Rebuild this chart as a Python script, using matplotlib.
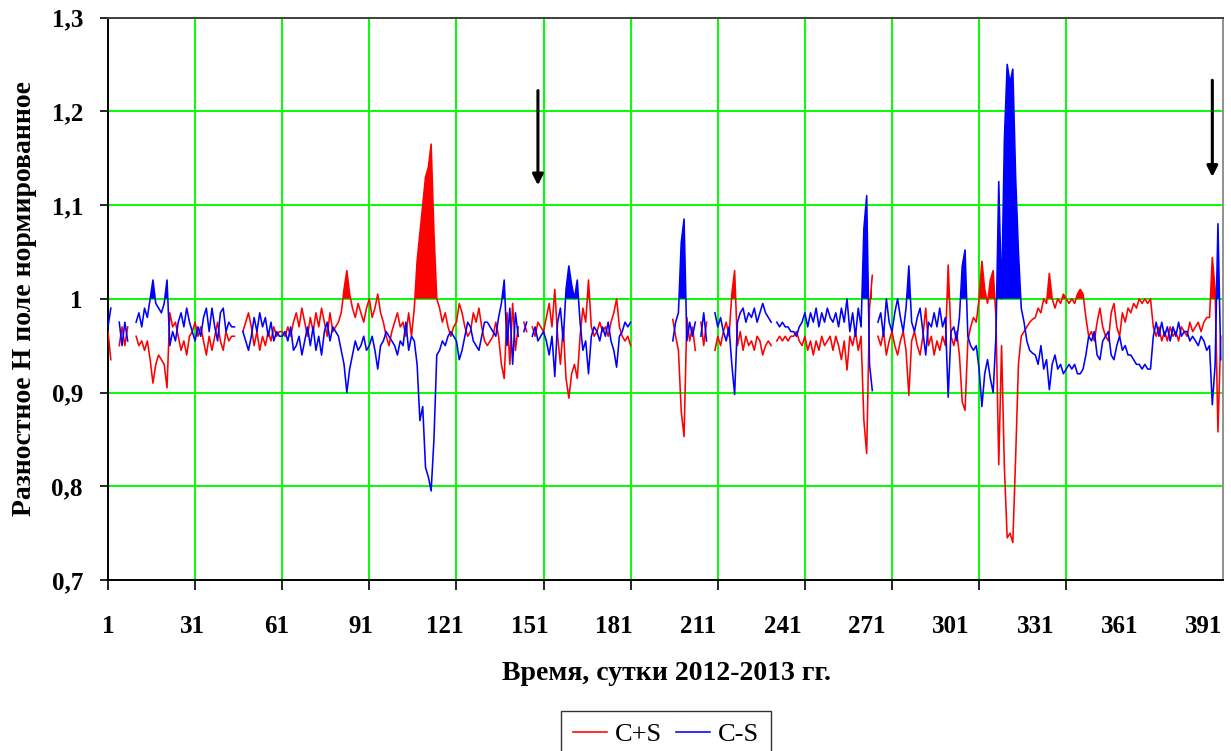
import numpy as np
import matplotlib
matplotlib.use('Agg')
import matplotlib.pyplot as plt
from matplotlib.ticker import FuncFormatter

nan = np.nan

# суточные значения, дни 1..397
cps = [  # C+S
    0.965, 0.935, nan, nan, 0.95, 0.97, 0.95, 0.97, nan, nan,
    0.96, 0.95, 0.955, 0.945, 0.955, 0.935, 0.91, 0.93, 0.94, 0.935,
    0.93, 0.905, 0.985, 0.97, 0.975, 0.96, 0.945, 0.955, 0.94, 0.96,
    0.965, 0.975, 0.96, 0.97, 0.955, 0.94, 0.96, 0.945, 0.96, 0.975,
    0.955, 0.945, 0.965, 0.955, 0.96, 0.96, nan, nan, 0.965, 0.975,
    0.985, 0.97, 0.95, 0.965, 0.945, 0.96, 0.95, 0.965, 0.955, 0.97,
    0.96, 0.965, 0.965, 0.96, 0.97, 0.96, 0.975, 0.985, 0.97, 0.99,
    0.975, 0.96, 0.98, 0.965, 0.985, 0.97, 0.99, 0.975, 0.96, 0.985,
    0.965, 0.97, 0.975, 0.985, 1.01, 1.03, 1.005, 0.99, 0.98, 0.995,
    0.985, 0.975, 0.99, 1.0, 0.98, 0.99, 1.005, 0.985, 0.975, 0.96,
    0.95, 0.965, 0.975, 0.985, 0.97, 0.975, 0.96, 0.985, 0.96, 0.99,
    1.04, 1.07, 1.1, 1.13, 1.14, 1.165, 1.07, 1.0, 0.99, 0.975,
    0.985, 0.97, 0.96, 0.97, 0.975, 0.995, 0.985, 0.97, 0.96, 0.965,
    0.985, 0.975, 0.99, 0.97, 0.955, 0.95, 0.955, 0.96, 0.975, 0.96,
    0.93, 0.915, 0.985, 0.93, 0.995, 0.945, 0.97, nan, 0.975, 0.965,
    nan, 0.97, 0.96, 0.975, 0.97, 0.965, 0.98, 0.995, 0.97, 1.01,
    0.96, 0.93, 0.97, 0.915, 0.894, 0.92, 0.93, 0.915, 0.96, 0.99,
    0.975, 1.02, 0.97, 0.96, 0.965, 0.975, 0.965, 0.97, 0.96, 0.975,
    0.985, 1.0, 0.97, 0.96, 0.955, 0.96, 0.95, nan, nan, nan,
    nan, nan, nan, nan, nan, nan, nan, nan, nan, nan,
    nan, 0.978, 0.96, 0.945, 0.88, 0.853, 0.98, 0.955, 0.97, 0.945,
    nan, 0.975, 0.95, 0.975, nan, nan, 0.945, 0.96, 0.95, 0.965,
    0.975, 0.96, 1.005, 1.03, 0.95, 0.965, 0.945, 0.96, 0.95, 0.955,
    0.945, 0.96, 0.955, 0.94, 0.95, 0.955, 0.95, nan, 0.955, 0.96,
    0.955, 0.96, 0.955, 0.96, 0.96, 0.965, 0.955, 0.95, 0.96, 0.945,
    0.955, 0.94, 0.955, 0.945, 0.96, 0.95, 0.955, 0.96, 0.945, 0.96,
    0.95, 0.935, 0.955, 0.924, 0.96, 0.95, 0.965, 0.945, 0.96, 0.87,
    0.835, 0.99, 1.025, nan, 0.96, 0.95, 0.965, 0.94, 0.955, 0.965,
    0.95, 0.94, 0.955, 0.965, 0.945, 0.897, 0.955, 0.965, 0.95, 0.94,
    0.96, 0.99, 0.95, 0.96, 0.94, 0.955, 0.945, 0.96, 0.95, 1.036,
    0.96, 0.95, 0.965, 0.94, 0.89, 0.881, 0.955, 0.97, 0.98, 0.975,
    1.0, 1.04, 1.01, 0.995, 1.02, 1.03, 0.98, 0.823, 0.95, 0.82,
    0.745, 0.75, 0.74, 0.83, 0.93, 0.96, 0.965, 0.97, 0.975, 0.978,
    0.98, 0.99, 0.985, 1.0, 0.995, 1.027, 1.0, 0.99, 1.0, 0.995,
    1.005, 1.0, 0.995, 1.0, 0.995, 1.005, 1.01, 1.005, 0.98, 0.96,
    0.965, 0.955, 0.975, 0.99, 0.97, 0.96, 0.955, 0.985, 0.995, 0.97,
    0.96, 0.985, 0.975, 0.99, 0.985, 0.995, 0.99, 1.0, 0.995, 1.0,
    0.995, 1.0, 0.97, 0.96, 0.97, 0.955, 0.965, 0.955, 0.97, 0.96,
    0.965, 0.955, 0.97, 0.965, 0.96, 0.975, 0.965, 0.97, 0.975, 0.965,
    0.975, 0.98, 0.98, 1.044, 1.01, 0.858, 0.96,
]

cms = [  # C-S
    0.97, 0.99, nan, nan, 0.975, 0.95, 0.975, 0.955, nan, nan,
    0.975, 0.985, 0.97, 0.99, 0.98, 1.0, 1.02, 0.995, 0.99, 0.985,
    0.995, 1.02, 0.95, 0.965, 0.955, 0.975, 0.985, 0.97, 0.99, 0.975,
    0.965, 0.955, 0.97, 0.96, 0.98, 0.99, 0.965, 0.99, 0.97, 0.955,
    0.985, 0.99, 0.965, 0.975, 0.97, 0.97, nan, nan, 0.965, 0.955,
    0.945, 0.96, 0.98, 0.965, 0.985, 0.97, 0.98, 0.96, 0.975, 0.955,
    0.965, 0.96, 0.96, 0.965, 0.955, 0.97, 0.945, 0.95, 0.96, 0.94,
    0.955, 0.97, 0.95, 0.97, 0.945, 0.96, 0.94, 0.965, 0.975, 0.955,
    0.97, 0.965, 0.96, 0.945, 0.93, 0.9, 0.925, 0.94, 0.955, 0.945,
    0.95, 0.96, 0.945, 0.95, 0.96, 0.945, 0.925, 0.95, 0.955, 0.965,
    0.96, 0.955, 0.95, 0.94, 0.955, 0.95, 0.975, 0.945, 0.96, 0.955,
    0.93, 0.87, 0.885, 0.82, 0.81, 0.795, 0.85, 0.94, 0.945, 0.955,
    0.95, 0.96, 0.965, 0.96, 0.955, 0.935, 0.945, 0.96, 0.975, 0.97,
    0.955, 0.95, 0.945, 0.96, 0.975, 0.975, 0.97, 0.965, 0.96, 0.98,
    0.995, 1.02, 0.95, 0.99, 0.93, 0.985, 0.96, nan, 0.965, 0.975,
    nan, 0.96, 0.97, 0.955, 0.96, 0.965, 0.955, 0.94, 0.96, 0.917,
    0.975, 0.99, 0.955, 1.01, 1.035, 1.015, 1.0, 1.02, 0.975, 0.945,
    0.955, 0.92, 0.96, 0.97, 0.965, 0.955, 0.97, 0.96, 0.975, 0.955,
    0.945, 0.927, 0.96, 0.965, 0.975, 0.97, 0.975, nan, nan, nan,
    nan, nan, nan, nan, nan, nan, nan, nan, nan, nan,
    nan, 0.955, 0.975, 0.985, 1.06, 1.085, 0.955, 0.975, 0.96, 0.975,
    nan, 0.96, 0.985, 0.955, nan, nan, 0.985, 0.97, 0.98, 0.965,
    0.955, 0.97, 0.93, 0.898, 0.975, 0.985, 0.99, 0.975, 0.985, 0.98,
    0.99, 0.975, 0.985, 0.995, 0.985, 0.98, 0.975, nan, 0.975, 0.97,
    0.975, 0.97, 0.97, 0.965, 0.965, 0.96, 0.97, 0.975, 0.985, 0.97,
    0.985, 0.975, 0.99, 0.97, 0.985, 0.975, 0.99, 0.98, 0.975, 0.985,
    0.97, 0.99, 0.975, 1.0, 0.965, 0.985, 0.96, 0.99, 0.97, 1.075,
    1.11, 0.93, 0.902, nan, 0.975, 0.985, 0.96, 1.0, 0.975, 0.965,
    0.985, 1.0, 0.98, 0.965, 0.99, 1.035, 0.975, 0.965, 0.98, 0.99,
    0.965, 0.94, 0.975, 0.97, 0.985, 0.97, 0.99, 0.97, 0.98, 0.895,
    0.965, 0.97, 0.955, 0.98, 1.035, 1.052, 0.96, 0.95, 0.945, 0.95,
    0.925, 0.885, 0.92, 0.935, 0.915, 0.9, 0.96, 1.125, 1.0, 1.17,
    1.25, 1.23, 1.245, 1.13, 1.05, 0.99, 0.975, 0.955, 0.945, 0.942,
    0.94, 0.93, 0.95, 0.925, 0.935, 0.903, 0.93, 0.94, 0.925, 0.93,
    0.92, 0.925, 0.93, 0.925, 0.93, 0.92, 0.92, 0.925, 0.94, 0.96,
    0.955, 0.965, 0.94, 0.935, 0.955, 0.96, 0.965, 0.94, 0.935, 0.95,
    0.96, 0.945, 0.95, 0.94, 0.94, 0.935, 0.93, 0.93, 0.925, 0.93,
    0.925, 0.925, 0.96, 0.975, 0.96, 0.975, 0.96, 0.97, 0.955, 0.97,
    0.96, 0.975, 0.96, 0.965, 0.965, 0.955, 0.96, 0.955, 0.95, 0.96,
    0.955, 0.945, 0.95, 0.887, 0.93, 1.08, 0.935,
]

days = np.arange(1, len(cps) + 1)
cps = np.array(cps)
cms = np.array(cms)

label_days = list(range(1, 392, 30))   # подписи оси X
grid_days = list(range(1, 373, 31))    # деления и сетка
arrow_days = [154, 394]

SERIF = 'Liberation Serif'

fig = plt.figure(figsize=(12.31, 7.51), dpi=100)
ax = fig.add_axes([108 / 1231, 1 - 580 / 751, 1115 / 1231, 562.5 / 751])

ax.plot(days, cps, color='#ff0000', lw=1.15, label='C+S', zorder=3)
ax.fill_between(days, 1.0, cps, where=cps > 1.0, interpolate=True,
                color='#ff0000', lw=0, zorder=3)
ax.plot(days, cms, color='#0000ff', lw=1.15, label='C-S', zorder=4)
ax.fill_between(days, 1.0, cms, where=cms > 1.0, interpolate=True,
                color='#0000ff', lw=0, zorder=4)

# стрелки
for d, (y0, y1) in zip(arrow_days, [(1.222, 1.121), (1.233, 1.13)]):
    ax.annotate('', xy=(d, y1), xytext=(d, y0),
                arrowprops=dict(arrowstyle='-|>', color='black', lw=2.2,
                                mutation_scale=16, shrinkA=0, shrinkB=0),
                zorder=5)

ax.set_xlim(1, 397.8)
ax.set_ylim(0.7, 1.3)

ax.xaxis.remove_overlapping_locs = False
ax.set_xticks(grid_days)
ax.set_xticklabels([])
ax.set_xticks(label_days, minor=True)
ax.set_xticklabels([str(d) for d in label_days], minor=True)
ax.tick_params(axis='x', which='major', direction='out', length=7, width=1.2)
ax.tick_params(axis='x', which='minor', length=0, pad=25)

ax.set_yticks(np.arange(0.7, 1.31, 0.1))
ax.yaxis.set_major_formatter(FuncFormatter(
    lambda v, p: '1' if abs(v - 1) < 1e-9 else f'{v:.1f}'.replace('.', ',')))
ax.tick_params(axis='y', direction='out', length=6, width=1.2, pad=12)

for lab in ax.get_xticklabels(minor=True) + ax.get_yticklabels():
    lab.set_fontfamily(SERIF)
    lab.set_fontweight('bold')
    lab.set_fontsize(18)

ax.set_axisbelow(True)
ax.grid(True, which='major', color='#00ff00', lw=1.4)

for s in ['left', 'bottom']:
    ax.spines[s].set_color('black')
    ax.spines[s].set_linewidth(1.4)
ax.spines['top'].set_color('#404040')
ax.spines['right'].set_color('#909090')
ax.spines['top'].set_linewidth(1.4)
ax.spines['right'].set_linewidth(1.4)

fig.text(25 / 1231, 1 - 298 / 751, 'Разностное Н поле нормированное',
         rotation=90, ha='center', va='center', family=SERIF,
         fontweight='bold', fontsize=20)
fig.text(666 / 1231, 1 - 673 / 751, 'Время, сутки 2012-2013 гг.',
         ha='center', va='center', family=SERIF, fontweight='bold',
         fontsize=20)

leg = fig.legend(loc='upper center', bbox_to_anchor=(666 / 1231, 1 - 711 / 751),
                 ncol=2, frameon=True, fancybox=False, shadow=False,
                 prop={'family': SERIF, 'size': 19},
                 handlelength=1.3, handletextpad=0.3, columnspacing=0.5,
                 borderpad=0.45, borderaxespad=0)
leg.get_frame().set_edgecolor('black')
leg.get_frame().set_linewidth(1.0)

fig.savefig('out.png', dpi=100)
